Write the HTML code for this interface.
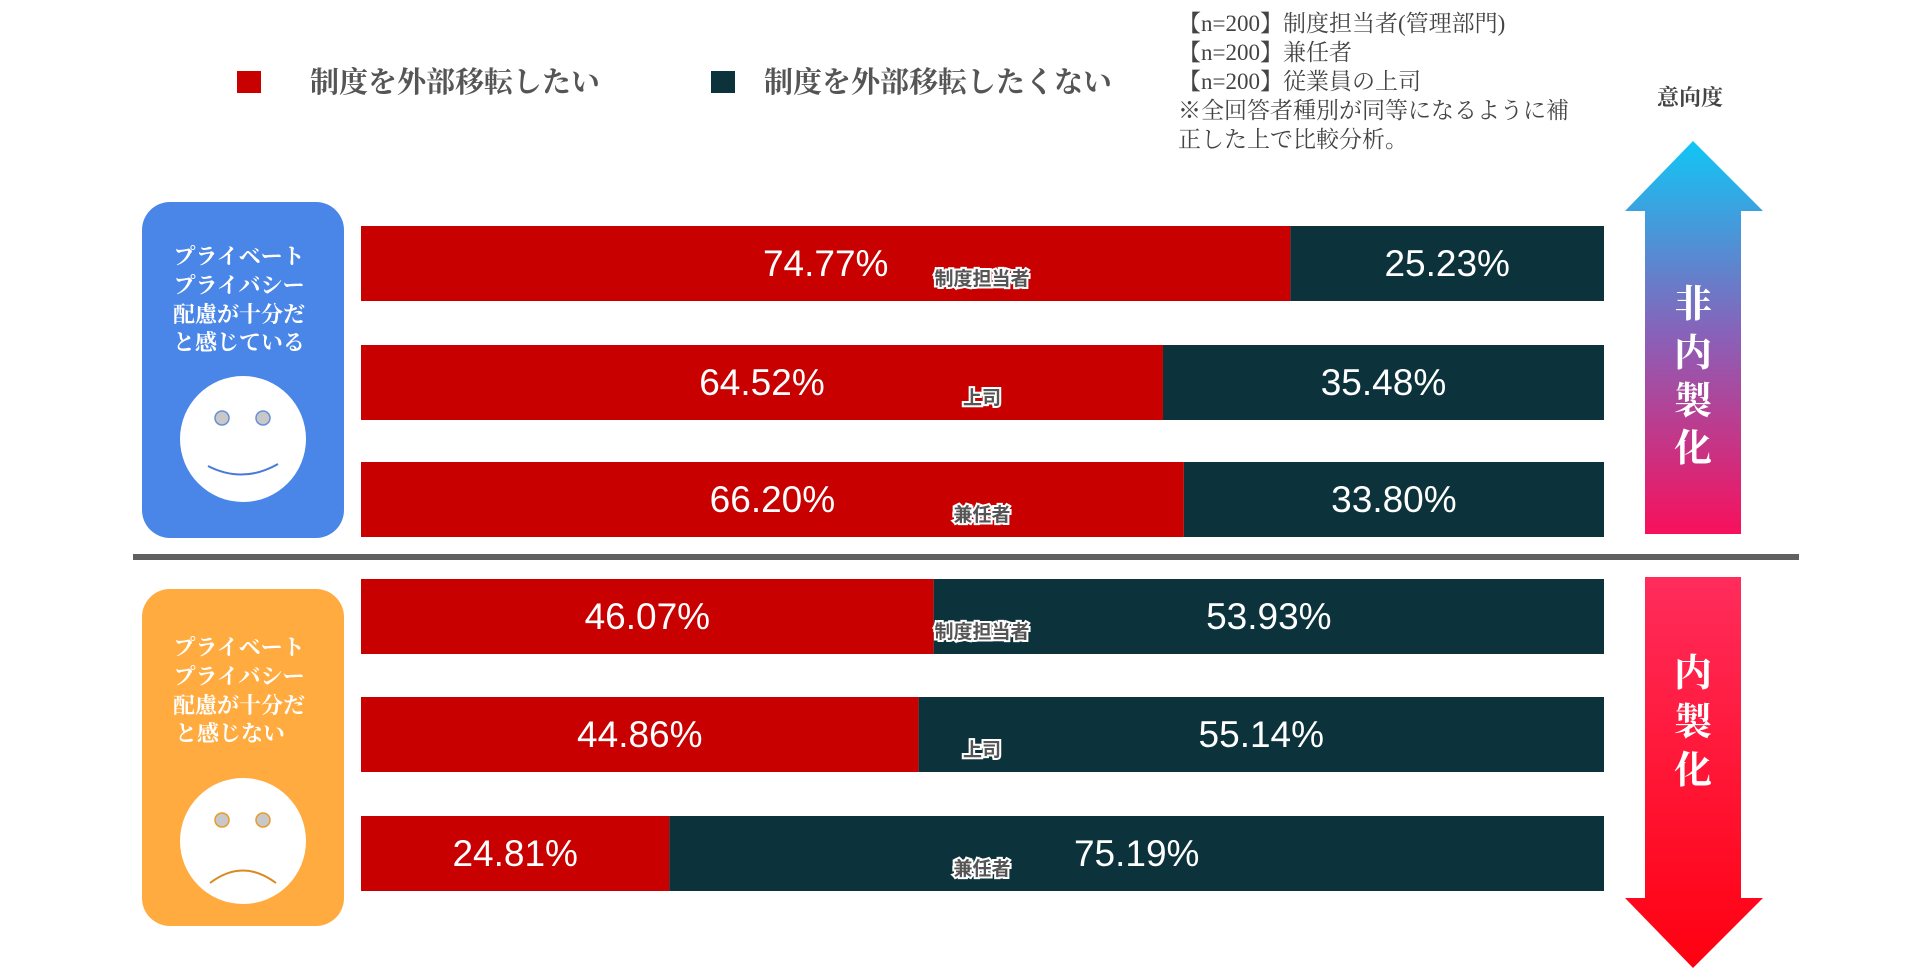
<!DOCTYPE html>
<html><head><meta charset="utf-8">
<style>
html,body{margin:0;padding:0;background:#fff;}
body{width:1918px;height:978px;overflow:hidden;}
svg{display:block;}
.serif{font-family:"Liberation Serif","Noto Serif CJK SC","Noto Sans CJK JP",serif;}
.sans{font-family:"Liberation Sans","Noto Sans CJK JP",sans-serif;}
</style></head>
<body>
<svg id="chart" width="1918" height="978" viewBox="0 0 1918 978">
<defs>
<linearGradient id="gUp" x1="0" y1="0" x2="0" y2="1">
<stop offset="0" stop-color="#10c6f5"/><stop offset="0.5" stop-color="#8a60b8"/><stop offset="1" stop-color="#f8105c"/>
</linearGradient>
<linearGradient id="gDown" x1="0" y1="0" x2="0" y2="1">
<stop offset="0" stop-color="#ff2c5c"/><stop offset="1" stop-color="#ff0010"/>
</linearGradient>
</defs>
<g>
<rect x="237" y="71" width="24" height="22" fill="#c80000"/>
<text x="310" y="92" class="serif" font-size="29" font-weight="bold" fill="#555">制度を外部移転したい</text>
<rect x="711" y="71" width="24" height="22" fill="#0c333b"/>
<text x="764" y="92" class="serif" font-size="29" font-weight="bold" fill="#555">制度を外部移転したくない</text>
</g>
<g class="serif" font-size="23" fill="#444">
<text x="1178" y="31">【n=200】制度担当者(管理部門)</text>
<text x="1178" y="60">【n=200】兼任者</text>
<text x="1178" y="89">【n=200】従業員の上司</text>
<text x="1178" y="118">※全回答者種別が同等になるように補</text>
<text x="1178" y="147">正した上で比較分析。</text>
</g>
<text x="1690" y="105" text-anchor="middle" class="serif" font-size="22" font-weight="bold" fill="#444">意向度</text>

<path d="M1693 141 L1763 211 L1741 211 L1741 534 L1645 534 L1645 211 L1625 211 Z" fill="url(#gUp)"/>
<path d="M1645 577 L1741 577 L1741 898 L1763 898 L1693 968 L1625 898 L1645 898 Z" fill="url(#gDown)"/>
<g class="serif" font-size="38" font-weight="bold" fill="#fff" text-anchor="middle">
<text x="1693" y="317">非</text><text x="1693" y="366">内</text><text x="1693" y="414">製</text><text x="1693" y="461">化</text>
</g>
<g class="serif" font-size="38" font-weight="bold" fill="#fff" text-anchor="middle">
<text x="1693" y="686">内</text><text x="1693" y="735">製</text><text x="1693" y="783">化</text>
</g>

<rect x="142" y="202" width="202" height="336" rx="28" fill="#4a86e8"/>
<g class="serif" font-size="22" font-weight="bold" fill="#fff" text-anchor="middle">
<text x="239" y="264">プライベート</text><text x="239" y="293">プライバシー</text><text x="239" y="322">配慮が十分だ</text><text x="239" y="350">と感じている</text>
</g>
<g>
<circle cx="243" cy="439" r="63" fill="#fff"/>
<circle cx="222" cy="418" r="7" fill="#c8c8c8" stroke="#6a8fd8" stroke-width="1.5"/>
<circle cx="263" cy="418" r="7" fill="#c8c8c8" stroke="#6a8fd8" stroke-width="1.5"/>
<path d="M208 466 Q243 484 278 464" fill="none" stroke="#4a7ad8" stroke-width="2"/>
</g>

<rect x="142" y="589" width="202" height="337" rx="28" fill="#ffab40"/>
<g class="serif" font-size="22" font-weight="bold" fill="#fff" text-anchor="middle">
<text x="239" y="655">プライベート</text><text x="239" y="684">プライバシー</text><text x="239" y="713">配慮が十分だ</text><text x="230" y="741">と感じない</text>
</g>
<g>
<circle cx="243" cy="841" r="63" fill="#fff"/>
<circle cx="222" cy="820" r="7" fill="#c8c8c8" stroke="#e89a30" stroke-width="1.5"/>
<circle cx="263" cy="820" r="7" fill="#c8c8c8" stroke="#e89a30" stroke-width="1.5"/>
<path d="M210 883 Q243 858 276 883" fill="none" stroke="#d88a20" stroke-width="2"/>
</g>

<rect x="133" y="554" width="1666" height="6" fill="#606060"/>
<g id="bars"></g>
</svg>
<script>
const categories = ["制度担当者","上司","兼任者","制度担当者","上司","兼任者"];
const wantValues = [74.77, 64.52, 66.20, 46.07, 44.86, 24.81];
const notWantValues = [25.23, 35.48, 33.80, 53.93, 55.14, 75.19];
const rowTops = [226, 345, 462, 579, 697, 816];

const X0 = 361, X1 = 1604, BAR_H = 75;
function xScale(v){ return X0 + v / 100 * (X1 - X0); }
const NS = "http://www.w3.org/2000/svg";
const g = document.getElementById("bars");
function mk(tag, attrs, parent){
  const e = document.createElementNS(NS, tag);
  for (const k in attrs) e.setAttribute(k, attrs[k]);
  parent.appendChild(e); return e;
}
categories.forEach((cat, i) => {
  const y = rowTops[i];
  const xm = xScale(wantValues[i]);
  const xe = xScale(wantValues[i] + notWantValues[i]);
  const r1 = mk("rect", {x: X0, y: y, width: xm - X0, height: BAR_H, fill: "#c80000"}, g);
  
  
  const r2 = mk("rect", {x: xm, y: y, width: xe - xm, height: BAR_H, fill: "#0c333b"}, g);
  
  
  const t1 = mk("text", {x: (X0 + xm) / 2, y: y + 50, "text-anchor": "middle", "font-size": "37", fill: "#fff", "class": "sans"}, g);
  t1.textContent = wantValues[i].toFixed(2) + "%";
  
  
  const t2 = mk("text", {x: (xm + xe) / 2, y: y + 50, "text-anchor": "middle", "font-size": "37", fill: "#fff", "class": "sans"}, g);
  t2.textContent = notWantValues[i].toFixed(2) + "%";
  
  
  const t3 = mk("text", {x: 982, y: y + 59, "text-anchor": "middle", "font-size": "19", "font-weight": "bold", fill: "#555", stroke: "#fff", "stroke-width": "4", "paint-order": "stroke", "class": "sans"}, g);
  t3.textContent = cat;
  
  
});
</script>
</body></html>
